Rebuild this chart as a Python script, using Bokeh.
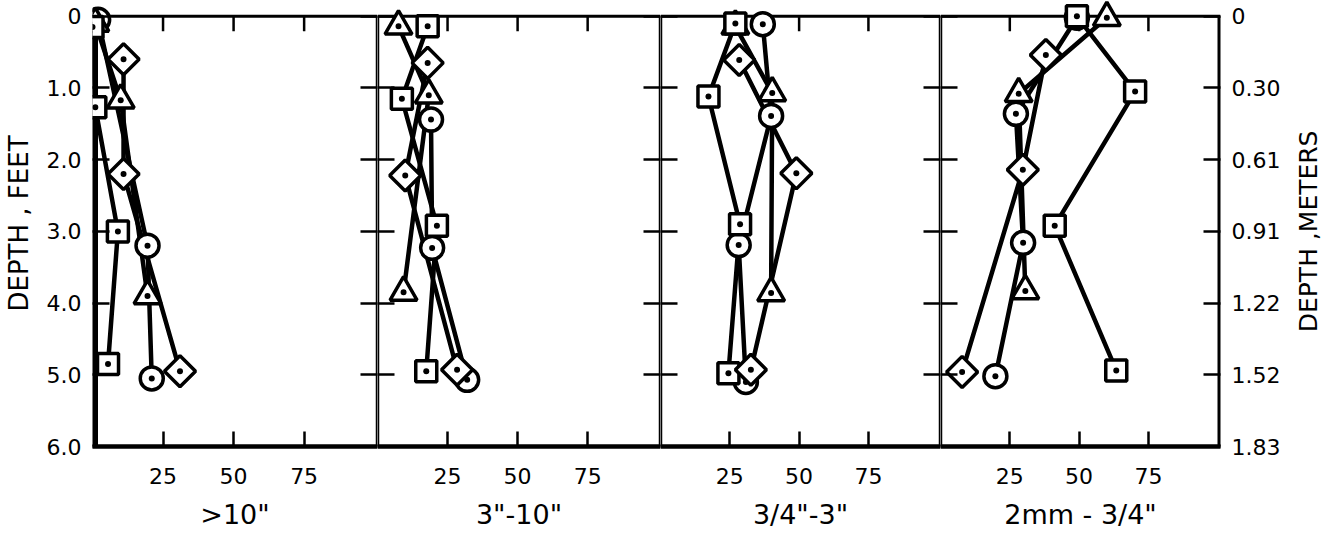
import math
from bokeh.plotting import figure
from bokeh.models import Range1d, LinearAxis, FixedTicker
from bokeh.core.properties import value
from bokeh.layouts import row
from bokeh.embed import file_html
from bokeh.resources import INLINE

FONT = "DejaVu Sans"

# ---------------- axes / tick labels ----------------
DEPTH_TICKS = [0, 1, 2, 3, 4, 5, 6]
FEET_LABELS = ["0", "1.0", "2.0", "3.0", "4.0", "5.0", "6.0"]
METER_LABELS = ["0", "0.30", "0.61", "0.91", "1.22", "1.52", "1.83"]
PCT_TICKS = [25, 50, 75]
SIZE_CLASSES = ['>10"', '3"-10"', '3/4"-3"', '2mm - 3/4"']
LEFT_TITLE = "DEPTH , FEET"
RIGHT_TITLE = "DEPTH ,METERS"
PCT_MAX = 101
DEPTH_MAX = 6

# ---------------- data: percent by size class vs depth (ft) ----------------
# panel 1 : >10"
GT10_CIRCLE_PCT = [2, 19.5, 21]
GT10_CIRCLE_DEPTH = [0.05, 3.2, 5.05]
GT10_TRIANGLE_PCT = [1, 10, 19.5]
GT10_TRIANGLE_DEPTH = [0.1, 1.17, 3.9]
GT10_SQUARE_PCT = [0, 1, 9, 5.5]
GT10_SQUARE_DEPTH = [0.15, 1.27, 3.0, 4.85]
GT10_DIAMOND_PCT = [11, 11, 31]
GT10_DIAMOND_DEPTH = [0.6, 2.2, 4.95]

# panel 2 : 3"-10"
C3_10_CIRCLE_PCT = [19.1, 19.5, 32]
C3_10_CIRCLE_DEPTH = [1.44, 3.23, 5.07]
C3_10_TRIANGLE_PCT = [7.5, 18.3, 9.3]
C3_10_TRIANGLE_DEPTH = [0.14, 1.1, 3.85]
C3_10_SQUARE_PCT = [17.9, 8.7, 21.2, 17.4]
C3_10_SQUARE_DEPTH = [0.14, 1.15, 2.92, 4.95]
C3_10_DIAMOND_PCT = [17.9, 9.9, 28.4]
C3_10_DIAMOND_DEPTH = [0.65, 2.22, 4.93]

# panel 3 : 3/4"-3"
C34_3_CIRCLE_PCT = [36.9, 39.9, 28.2, 30.8]
C34_3_CIRCLE_DEPTH = [0.11, 1.39, 3.19, 5.1]
C34_3_TRIANGLE_PCT = [27, 40.3, 39.9]
C34_3_TRIANGLE_DEPTH = [0.14, 1.07, 3.86]
C34_3_SQUARE_PCT = [27, 17.3, 28.7, 24.5]
C34_3_SQUARE_DEPTH = [0.1, 1.12, 2.9, 4.98]
C34_3_DIAMOND_PCT = [28.4, 49, 32.6]
C34_3_DIAMOND_DEPTH = [0.61, 2.19, 4.93]

# panel 4 : 2mm-3/4"
C2MM_CIRCLE_PCT = [49.2, 27.2, 29.8, 19.8]
C2MM_CIRCLE_DEPTH = [0.02, 1.36, 3.16, 5.02]
C2MM_TRIANGLE_PCT = [60, 28.2, 30.6]
C2MM_TRIANGLE_DEPTH = [0.02, 1.08, 3.83]
C2MM_SQUARE_PCT = [49.2, 70.2, 41.2, 63.4]
C2MM_SQUARE_DEPTH = [0.0, 1.05, 2.92, 4.94]
C2MM_DIAMOND_PCT = [38, 29.7, 7.8]
C2MM_DIAMOND_DEPTH = [0.54, 2.14, 4.96]

PANELS = [
    [("circle", GT10_CIRCLE_PCT, GT10_CIRCLE_DEPTH),
     ("triangle", GT10_TRIANGLE_PCT, GT10_TRIANGLE_DEPTH),
     ("square", GT10_SQUARE_PCT, GT10_SQUARE_DEPTH),
     ("diamond", GT10_DIAMOND_PCT, GT10_DIAMOND_DEPTH)],
    [("circle", C3_10_CIRCLE_PCT, C3_10_CIRCLE_DEPTH),
     ("triangle", C3_10_TRIANGLE_PCT, C3_10_TRIANGLE_DEPTH),
     ("square", C3_10_SQUARE_PCT, C3_10_SQUARE_DEPTH),
     ("diamond", C3_10_DIAMOND_PCT, C3_10_DIAMOND_DEPTH)],
    [("circle", C34_3_CIRCLE_PCT, C34_3_CIRCLE_DEPTH),
     ("triangle", C34_3_TRIANGLE_PCT, C34_3_TRIANGLE_DEPTH),
     ("square", C34_3_SQUARE_PCT, C34_3_SQUARE_DEPTH),
     ("diamond", C34_3_DIAMOND_PCT, C34_3_DIAMOND_DEPTH)],
    [("circle", C2MM_CIRCLE_PCT, C2MM_CIRCLE_DEPTH),
     ("triangle", C2MM_TRIANGLE_PCT, C2MM_TRIANGLE_DEPTH),
     ("square", C2MM_SQUARE_PCT, C2MM_SQUARE_DEPTH),
     ("diamond", C2MM_DIAMOND_PCT, C2MM_DIAMOND_DEPTH)],
]

# ---------------- styling ----------------
MARKERS = {
    "circle": dict(marker="circle", size=23, angle=0.0),
    "triangle": dict(marker="triangle", size=27, angle=0.0),
    "square": dict(marker="square", size=21, angle=0.0),
    "diamond": dict(marker="square", size=22, angle=math.pi / 4),
}
WIDTHS = [377, 283, 280, 350]
LEFT_B = [92, 0, 0, 0]
RIGHT_B = [0, 0, 0, 70]
TITLE_STRIP_W = 46
TOP_PAD = 0.22      # room above depth 0 so markers on the top edge are not cut
TOP_TICK = 0.21     # length of top inner ticks, in feet
HEIGHT = 538
BOTTOM_B = 92


def side_axis(labels, title):
    ax = LinearAxis(ticker=FixedTicker(ticks=DEPTH_TICKS))
    ax.axis_line_color = None
    ax.major_tick_in = 17
    ax.major_tick_out = 0
    ax.major_tick_line_width = 2.5
    ax.major_tick_line_color = "black"
    ax.minor_tick_line_color = None
    if labels is None:
        ax.major_label_overrides = {t: "" for t in DEPTH_TICKS}
        ax.major_label_text_font_size = "0px"
        ax.major_label_standoff = 0
    else:
        ax.major_label_overrides = {t: l for t, l in zip(DEPTH_TICKS, labels)}
        ax.major_label_text_font = FONT
        ax.major_label_text_font_size = "22px"
        ax.major_label_text_color = "black"
        ax.major_label_standoff = 11
        if title is not None:
            ax.axis_label = title
            ax.axis_label_text_font = FONT
            ax.axis_label_text_font_size = "26px"
            ax.axis_label_text_font_style = "normal"
            ax.axis_label_text_color = "black"
            ax.axis_label_standoff = 10
    return ax


depth_range = Range1d(DEPTH_MAX, -TOP_PAD)
figs = []
for i, series in enumerate(PANELS):
    p = figure(width=WIDTHS[i], height=HEIGHT,
               x_range=Range1d(0, PCT_MAX), y_range=depth_range,
               output_backend="svg", toolbar_location=None, y_axis_location=None,
               min_border_left=LEFT_B[i], min_border_right=RIGHT_B[i],
               min_border_top=0, min_border_bottom=BOTTOM_B,
               background_fill_color="white", border_fill_color="white")
    p.outline_line_color = None
    p.grid.visible = False

    bx = p.below[0]
    bx.ticker = FixedTicker(ticks=PCT_TICKS)
    bx.axis_line_width = 4.5
    bx.axis_line_color = "black"
    bx.major_tick_in = 15
    bx.major_tick_out = 0
    bx.major_tick_line_width = 2.5
    bx.minor_tick_line_color = None
    bx.major_label_text_font = FONT
    bx.major_label_text_font_size = "22px"
    bx.major_label_text_color = "black"
    bx.major_label_standoff = 21
    bx.axis_label = SIZE_CLASSES[i]
    bx.axis_label_text_font = FONT
    bx.axis_label_text_font_size = "27px"
    bx.axis_label_text_font_style = "normal"
    bx.axis_label_text_color = "black"
    bx.axis_label_standoff = 12

    p.add_layout(side_axis(FEET_LABELS if i == 0 else None, LEFT_TITLE), "left")
    p.add_layout(side_axis(METER_LABELS if i == 3 else None, None), "right")

    # frame edges (top edge at depth 0, vertical edges from depth 0 down)
    p.segment(x0=[0], y0=[0], x1=[PCT_MAX], y1=[0], line_width=3, line_color="black")
    p.segment(x0=[0], y0=[0], x1=[0], y1=[DEPTH_MAX],
              line_width=11 if i == 0 else 3.5, line_color="black")
    p.segment(x0=[PCT_MAX], y0=[0], x1=[PCT_MAX], y1=[DEPTH_MAX],
              line_width=3.5 if i < 3 else 6, line_color="black")
    p.segment(x0=PCT_TICKS, y0=[0] * len(PCT_TICKS), x1=PCT_TICKS,
              y1=[TOP_TICK] * len(PCT_TICKS), line_width=2.5, line_color="black")

    for name, xs, ds in series:
        p.line(xs, ds, line_width=4.5, line_color="black", line_join="round")
    for name, xs, ds in series:
        m = MARKERS[name]
        p.scatter(xs, ds, marker=m["marker"], size=m["size"], angle=m["angle"],
                  fill_color="white", line_color="black", line_width=3.5)
        p.scatter(xs, ds, marker="circle", size=6, fill_color="black", line_color=None)
    figs.append(p)

# narrow strip carrying the right-hand title, reading bottom-to-top
t = figure(width=TITLE_STRIP_W, height=HEIGHT, x_range=Range1d(0, 1), y_range=depth_range,
           output_backend="svg", toolbar_location=None,
           x_axis_location=None, y_axis_location=None,
           min_border_left=0, min_border_right=0, min_border_top=0,
           min_border_bottom=BOTTOM_B,
           background_fill_color="white", border_fill_color="white")
t.outline_line_color = None
t.grid.visible = False
t.text(x=[0.4], y=[DEPTH_MAX / 2], text=[RIGHT_TITLE], angle=math.pi / 2,
       text_align="center", text_baseline="middle", text_font=value(FONT),
       text_font_size="25px", text_color="black")
figs.append(t)

layout = row(*figs)
open("out.html", "w").write(file_html(layout, INLINE))
